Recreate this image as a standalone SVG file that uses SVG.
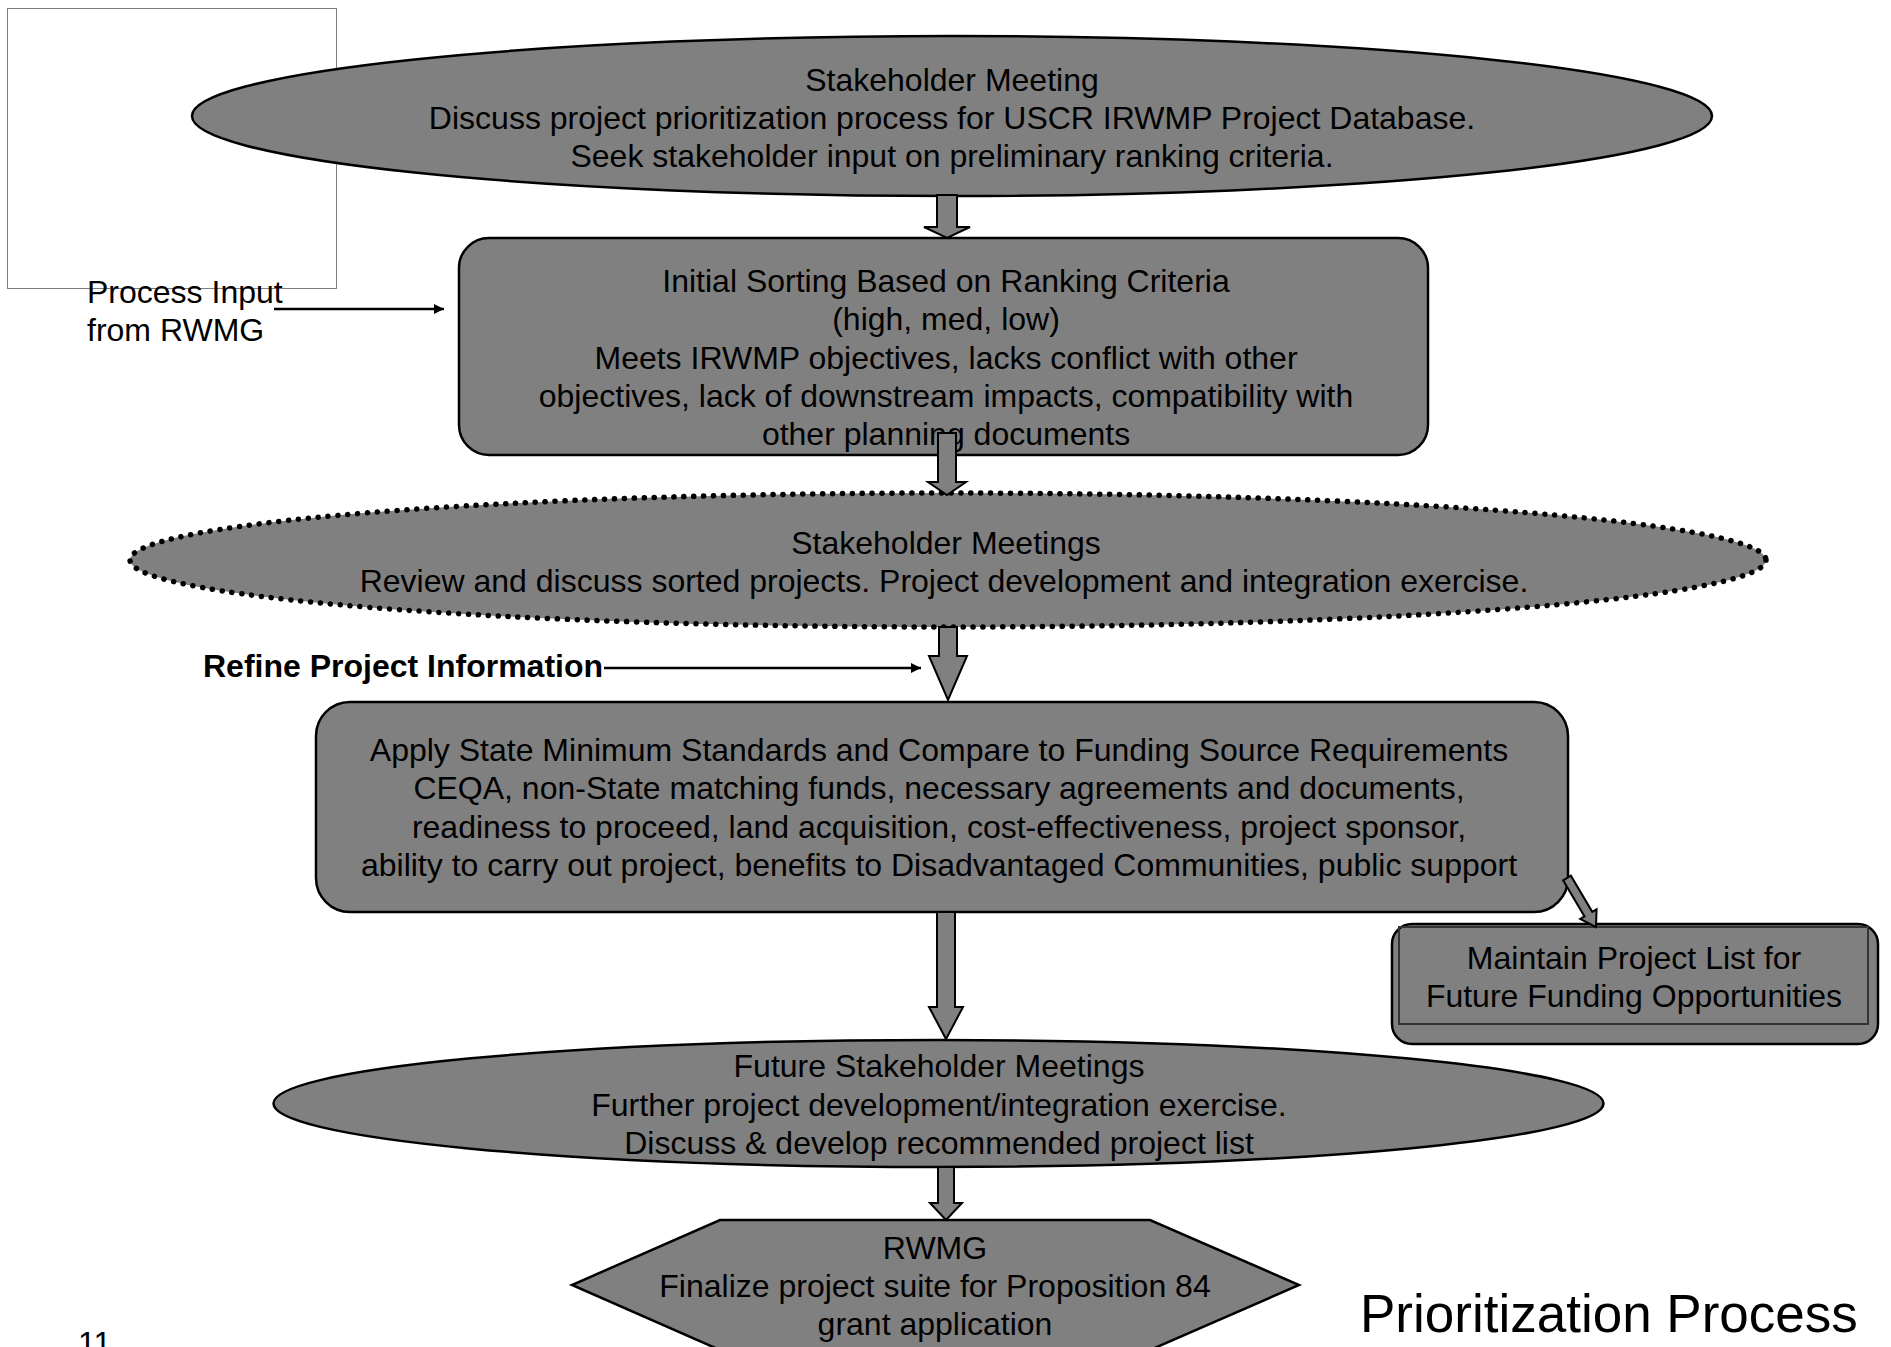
<svg xmlns="http://www.w3.org/2000/svg" width="1891" height="1347" viewBox="0 0 1891 1347">
<defs>
<style>
.t{font-family:"Liberation Sans",Arial,sans-serif;font-size:32px;fill:#000;text-anchor:middle}
.tl{font-family:"Liberation Sans",Arial,sans-serif;font-size:32px;fill:#000}
.title{font-family:"Liberation Sans",Arial,sans-serif;font-size:53px;fill:#000}
.shape{fill:#808080;stroke:#000;stroke-width:2.5}
.blk{fill:#808080;stroke:#000;stroke-width:2;stroke-linejoin:miter}
.ln{stroke:#000;stroke-width:2.5;fill:none}
</style>
<marker id="ah" viewBox="0 0 10 10" refX="10" refY="5" markerWidth="6" markerHeight="4" markerUnits="strokeWidth" orient="auto"><path d="M0,0 L10,5 L0,10 z" fill="#000"/></marker>
</defs>
<rect width="1891" height="1347" fill="#fff"/>
<rect x="7.5" y="8.5" width="329" height="280" fill="#fff" stroke="#7f7f7f" stroke-width="1"/>

<g id="n1">
<ellipse class="shape" cx="952" cy="116" rx="760" ry="80"/>
<text class="t" x="952" y="91">Stakeholder Meeting</text>
<text class="t" x="952" y="129">Discuss project prioritization process for USCR IRWMP Project Database.</text>
<text class="t" x="952" y="167">Seek stakeholder input on preliminary ranking criteria.</text>
</g>

<g id="n2">
<rect class="shape" x="459" y="238" width="969" height="217" rx="30" ry="30"/>
<text class="t" x="946" y="292">Initial Sorting Based on Ranking Criteria</text>
<text class="t" x="946" y="330">(high, med, low)</text>
<text class="t" x="946" y="369">Meets IRWMP objectives, lacks conflict with other</text>
<text class="t" x="946" y="407">objectives, lack of downstream impacts, compatibility with</text>
<text class="t" x="946" y="445">other planning documents</text>
</g>

<g id="n3">
<ellipse cx="948" cy="560" rx="818" ry="67" fill="#808080" stroke="#000" stroke-width="5.5" stroke-linecap="round" stroke-dasharray="0.1 9.8"/>
<text class="t" x="946" y="554">Stakeholder Meetings</text>
<text class="t" x="944" y="592">Review and discuss sorted projects. Project development and integration exercise.</text>
</g>

<g id="n4">
<rect class="shape" x="316" y="702" width="1252" height="210" rx="34" ry="34"/>
<text class="t" x="939" y="761">Apply State Minimum Standards and Compare to Funding Source Requirements</text>
<text class="t" x="939" y="799">CEQA, non-State matching funds, necessary agreements and documents,</text>
<text class="t" x="939" y="838">readiness to proceed, land acquisition, cost-effectiveness, project sponsor,</text>
<text class="t" x="939" y="876">ability to carry out project, benefits to Disadvantaged Communities, public support</text>
</g>

<g id="n5">
<rect class="shape" x="1392" y="924" width="486" height="120" rx="20" ry="20"/>
<rect x="1399" y="927" width="469" height="97" fill="none" stroke="#333" stroke-width="2"/>
<text class="t" x="1634" y="969">Maintain Project List for</text>
<text class="t" x="1634" y="1007">Future Funding Opportunities</text>
</g>

<g id="n6">
<ellipse class="shape" cx="938.5" cy="1103.5" rx="665" ry="63.5"/>
<text class="t" x="939" y="1077">Future Stakeholder Meetings</text>
<text class="t" x="939" y="1116">Further project development/integration exercise.</text>
<text class="t" x="939" y="1154">Discuss &amp; develop recommended project list</text>
</g>

<g id="n7">
<polygon class="shape" points="720,1220 1150,1220 1299,1285 1150,1350 720,1350 572,1285"/>
<text class="t" x="935" y="1259">RWMG</text>
<text class="t" x="935" y="1297">Finalize project suite for Proposition 84</text>
<text class="t" x="935" y="1335">grant application</text>
</g>

<g id="labels">
<text class="tl" x="87" y="303">Process Input</text>
<text class="tl" x="87" y="341">from RWMG</text>
<text class="tl" x="203" y="677" font-weight="bold">Refine Project Information</text>
<text class="tl" x="78" y="1354">11</text>
<text class="title" x="1360" y="1332">Prioritization Process</text>
</g>

<g id="connectors">
<polygon class="blk" points="937,195 957,195 957,227 970,227 947,238 924,227 937,227"/>
<polygon class="blk" points="938,433 956,433 956,482 966,482 947,495 928,482 938,482"/>
<polygon class="blk" points="939,627 957,627 957,656 967,656 948,700 929,656 939,656"/>
<polygon class="blk" points="937,912 955,912 955,1007 963,1007 946,1039 929,1007 937,1007"/>
<polygon class="blk" points="938,1167 954,1167 954,1203 962,1203 946,1220 930,1203 938,1203"/>
<polygon class="blk" transform="translate(1567,878) rotate(-30.6)" points="-4.5,0 4.5,0 4.5,42 9.5,42 0,57 -9.5,42 -4.5,42"/>
<line class="ln" x1="274" y1="309" x2="444" y2="309" marker-end="url(#ah)"/>
<line class="ln" x1="604" y1="668" x2="921" y2="668" marker-end="url(#ah)"/>
</g>
</svg>
